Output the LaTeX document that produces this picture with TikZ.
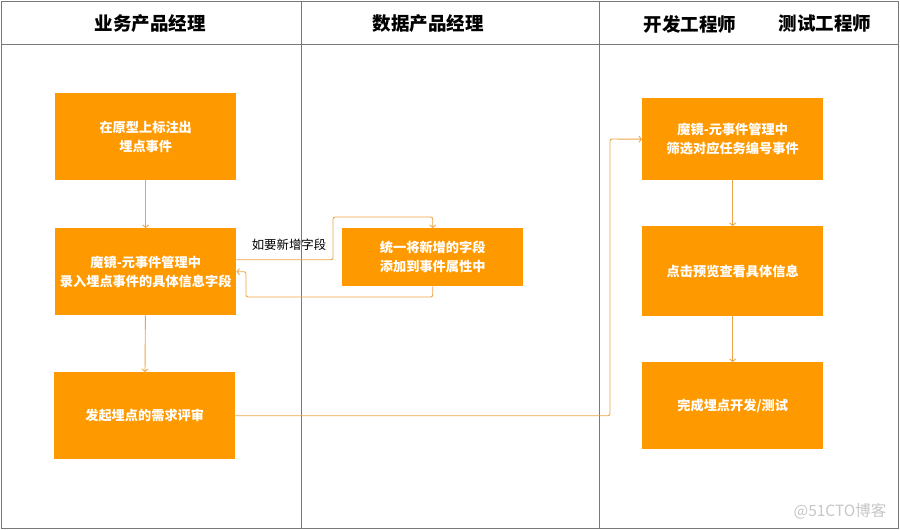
\documentclass[tikz,border=0pt]{standalone}
\usepackage{fontspec}
\newfontfamily\cjk{Noto Sans CJK SC}
\usetikzlibrary{arrows.meta}
\definecolor{boxorange}{RGB}{255,153,0}
\definecolor{lineorange}{RGB}{236,164,72}
\definecolor{lanegray}{RGB}{120,120,120}

\begin{document}
\begin{tikzpicture}[x=1pt,y=-1pt,
  stepbox/.style={fill=boxorange, text=white, font=\cjk\bfseries\fontsize{13.2}{19}\selectfont,
    align=center, inner sep=0pt, minimum width=181pt, minimum height=87pt, anchor=north west},
  flow/.style={draw=lineorange, line width=0.9pt, rounded corners=2pt, -{Straight Barb[length=2.5pt,width=6pt]}},
  lanehead/.style={font=\cjk\bfseries\fontsize{18.5}{20}\selectfont}]
\useasboundingbox (0,0) rectangle (900,530);

%swimlanes
\draw[lanegray] (1,1) rectangle (898,528);
\draw[lanegray] (1,44) -- (898,44); %header line
\draw[lanegray] (301,1) -- (301,528);
\draw[lanegray] (599,1) -- (599,528);
\node[lanehead] (bizpm) at (150,24) {业务产品经理};
\node[lanehead] (datapm) at (428,24) {数据产品经理};
\node[lanehead] (dever) at (690,24) {开发工程师};
\node[lanehead] (tester) at (825,24) {测试工程师};

%steps
\node[stepbox] (pmark) at (55,93) {在原型上标注出\\埋点事件};
\node[stepbox] (pentry) at (55,228) {魔镜-元事件管理中\\录入埋点事件的具体信息字段};
\node[stepbox] (preview) at (54,372) {发起埋点的需求评审};
\node[stepbox, minimum height=58pt] (dfield) at (342,228) {统一将新增的字段\\添加到事件属性中};
\node[stepbox, minimum height=82pt] (dfilter) at (642,98) {魔镜-元事件管理中\\筛选对应任务编号事件};
\node[stepbox, minimum height=90pt] (dview) at (642,226) {点击预览查看具体信息};
\node[stepbox] (ddone) at (642,362) {完成埋点开发/测试};

%flow
\draw[flow] (pmark) -- (pentry);
\draw[flow] (pentry) -- (preview);
\draw[flow] ([yshift=12pt]pentry.east) -| (333,217) -| (dfield.north);
\node[font=\cjk\fontsize{12.4}{14}\selectfont] (addnote) at (289,245) {如要新增字段};
\draw[flow] (dfield.south) |- (246,297) |- (pentry.east);
\draw[flow] (preview.east) -| (610,139) -- (dfilter.west);
\draw[flow] (dfilter) -- (dview);
\draw[flow] (dview) -- (ddone);

\node[text=gray!45, font=\cjk\fontsize{15.5}{17}\selectfont] (mark) at (840,511) {@51CTO博客};
\end{tikzpicture}
\end{document}
